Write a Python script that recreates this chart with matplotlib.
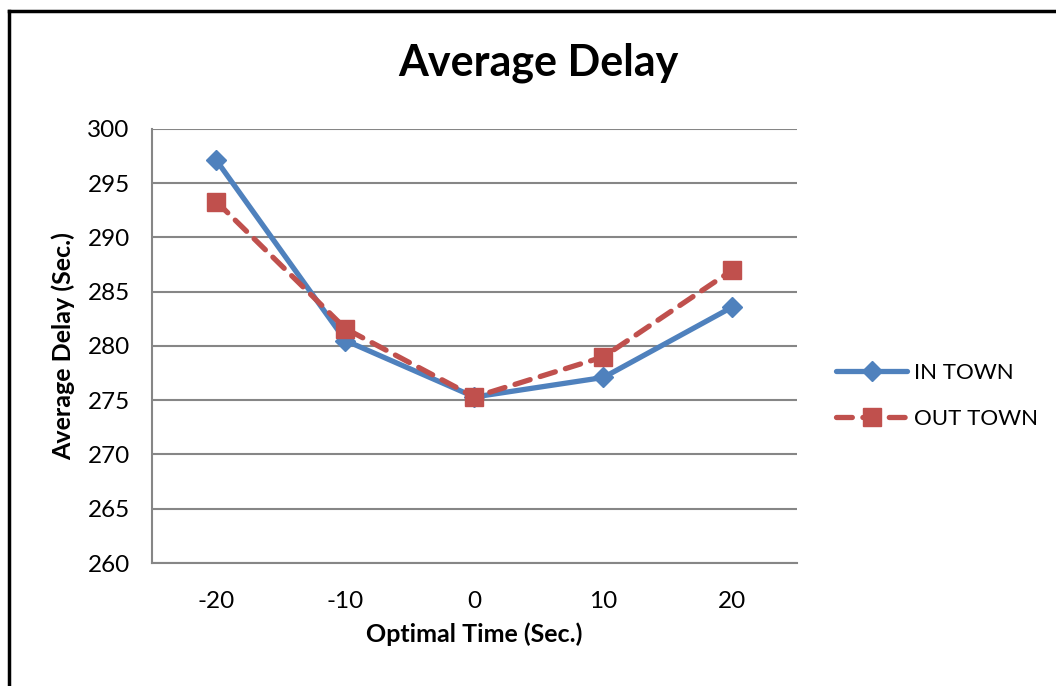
import matplotlib.pyplot as plt
from matplotlib.lines import Line2D

plt.rcParams['font.family'] = ['Lato', 'DejaVu Sans']

categories = ["-20", "-10", "0", "10", "20"]
in_town = [297.1, 280.5, 275.3, 277.1, 283.6]
out_town = [293.3, 281.6, 275.3, 279.0, 287.0]

fig = plt.figure(figsize=(10.56, 6.86), dpi=100)
ax = fig.add_axes([0.1439, 0.1793, 0.6108, 0.6327])

x = range(len(categories))
ax.plot(x, in_town, color='#4F81BD', lw=3.8, marker='D', ms=10,
        label='IN TOWN', solid_capstyle='round')
ax.plot(x, out_town, color='#C0504D', lw=3.8, ls=(0, (3, 2)), marker='s',
        ms=12.5, label='OUT TOWN', dash_capstyle='round')

ax.set_xlim(-0.5, 4.5)
ax.set_ylim(260, 300)
ax.set_yticks(range(260, 301, 5))
ax.set_xticks(list(x))
ax.set_xticklabels(categories)
ax.tick_params(axis='both', length=0, labelsize=17.5)
ax.tick_params(axis='x', pad=20)
ax.tick_params(axis='y', pad=16)
ax.yaxis.grid(True, color='#868686', lw=1.5)
ax.set_axisbelow(True)
for s in ['top', 'right']:
    ax.spines[s].set_visible(False)
for s in ['left', 'bottom']:
    ax.spines[s].set_color('#868686')
    ax.spines[s].set_linewidth(1.5)

ax.set_xlabel('Optimal Time (Sec.)', fontsize=18, fontweight='bold', labelpad=8)
ax.set_ylabel('Average Delay (Sec.)', fontsize=18, fontweight='bold', labelpad=9)
fig.text(0.51, 0.909, 'Average Delay', fontsize=31, fontweight='bold',
         ha='center', va='center')

ax.legend(loc='center left', bbox_to_anchor=(1.03, 0.385), frameon=False,
          fontsize=16, handlelength=3.2, labelspacing=1.2, handletextpad=0.3)

# outer frame
fig.add_artist(Line2D([0.0088, 0.0088], [0, 0.984], color='black', lw=2.5))
fig.add_artist(Line2D([0.0088, 1.0], [0.984, 0.984], color='black', lw=2.5))

fig.savefig('out.png', dpi=100)
